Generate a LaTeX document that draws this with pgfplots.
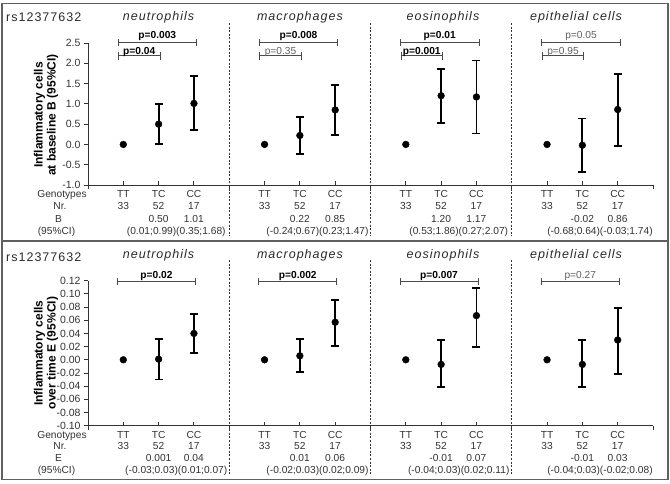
\documentclass[border=0pt]{standalone}
\usepackage{fontspec}
\setmainfont{Liberation Sans}
\usepackage{pgfplots}
\pgfplotsset{compat=1.18}
\definecolor{ax}{HTML}{333333}
\definecolor{br}{HTML}{4A4A4A}
\definecolor{fr}{HTML}{606060}
\definecolor{ns}{HTML}{606060}
\definecolor{tx}{HTML}{2A2A2A}
\newcommand{\ttl}{\fontsize{12.5}{14}\selectfont\addfontfeature{LetterSpace=8}}
\newcommand{\sm}{\fontsize{10.2}{12}\selectfont}
\begin{document}
\begin{tikzpicture}
\pgfplotsset{
 panel/.style={
  scale only axis, width=565pt, anchor=south west,
  xmin=0, xmax=4, axis x line*=bottom, axis y line*=left,
  xtick=\empty, clip=false, tick align=outside, major tick length=4pt,
  axis line style={ax, line width=0.9pt}, y tick style={ax, line width=0.9pt},
  yticklabel style={font=\fontsize{10.5}{12}\selectfont, text=ax,
    /pgf/number format/fixed, /pgf/number format/fixed zerofill,
    /pgf/number format/assume math mode=true},
 },
 dots/.style={only marks, mark=*, mark size=3.4pt, black},
 ebars/.style={only marks, mark=*, mark size=3.4pt, black,
   error bars/.cd, y dir=both, y explicit,
   error bar style={line width=1.8pt, black},
   error mark options={rotate=90, mark size=4pt, line width=1.8pt, black}},
}

% ---------- top panel ----------
\begin{axis}[panel, at={(88pt,298pt)}, height=142pt, ymin=-1, ymax=2.5,
  ytick={-1,-0.5,0,0.5,1,1.5,2,2.5},
  yticklabel style={/pgf/number format/precision=1}]
\addplot[dots] coordinates {(0.25,0) (1.25,0) (2.25,0) (3.25,0)};
\addplot[ebars] coordinates {
 (0.5,0.50) += (0,0.49) -= (0,0.49)
 (0.75,1.01) += (0,0.67) -= (0,0.66)
 (1.5,0.22) += (0,0.45) -= (0,0.46)
 (1.75,0.85) += (0,0.62) -= (0,0.62)
 (2.5,1.20) += (0,0.66) -= (0,0.67)
 (2.75,1.17) += (0,0.90) -= (0,0.90)
 (3.5,-0.02) += (0,0.66) -= (0,0.66)
 (3.75,0.86) += (0,0.88) -= (0,0.89)
};
\end{axis}

% ---------- bottom panel ----------
\begin{axis}[panel, at={(88pt,57.3pt)}, height=145pt, ymin=-0.10, ymax=0.12,
  ytick={-0.10,-0.08,-0.06,-0.04,-0.02,0,0.02,0.04,0.06,0.08,0.10,0.12},
  yticklabel style={/pgf/number format/precision=2}]
\addplot[dots] coordinates {(0.25,0) (1.25,0) (2.25,0) (3.25,0)};
\addplot[ebars] coordinates {
 (0.5,0.001) += (0,0.030) -= (0,0.031)
 (0.75,0.040) += (0,0.030) -= (0,0.030)
 (1.5,0.006) += (0,0.025) -= (0,0.025)
 (1.75,0.057) += (0,0.034) -= (0,0.036)
 (2.5,-0.007) += (0,0.037) -= (0,0.034)
 (2.75,0.067) += (0,0.042) -= (0,0.047)
 (3.5,-0.007) += (0,0.037) -= (0,0.034)
 (3.75,0.030) += (0,0.049) -= (0,0.051)
};
\end{axis}

\begin{scope}[x=1pt,y=1pt]
% ---------- frame ----------
\draw[fr, line width=1.4pt] (2,3.5) rectangle (668,479.7);
\draw[fr, line width=1.4pt] (2,242) -- (668,242);

% ---------- x ticks and separators ----------
\foreach \yb/\ys/\ye in {298/460/247, 57.3/223/8}{
  \foreach \g in {88,229.25,370.5,511.75}{
    \draw[ax, line width=0.9pt] (\g+35.3,\yb) -- ++(0,4) (\g+70.6,\yb) -- ++(0,4) (\g+105.9,\yb) -- ++(0,4);
  }
  \foreach \g in {88,229.25,370.5,511.75,653}{
    \draw[ax, line width=0.9pt] (\g,\yb) -- ++(0,-4);
  }
  \foreach \g in {229.25,370.5,511.75}{
    \draw[ax, line width=0.7pt, dash pattern=on 2pt off 1.6pt] (\g,\ys) -- (\g,\ye);
  }
}

% ---------- titles ----------
\node[anchor=west, text=tx, inner sep=0] at (6,466) {\ttl rs12377632};
\node[anchor=west, text=tx, inner sep=0] at (6,225.5) {\ttl rs12377632};
\foreach \yy in {466,228}{
  \node[text=tx] at (158.5,\yy) {\ttl\itshape neutrophils};
  \node[text=tx] at (299.9,\yy) {\ttl\itshape macrophages};
  \node[text=tx] at (443,\yy) {\ttl\itshape eosinophils};
  \node[text=tx] at (576,\yy) {\ttl\itshape epithelial cells};
}

% ---------- y labels ----------
\node[rotate=90, align=center, text=black, font=\bfseries\fontsize{12}{13}\selectfont] at (46,368) {Inflammatory cells\\at baseline B (95\%CI)};
\node[rotate=90, align=center, text=black, font=\bfseries\fontsize{12}{13}\selectfont] at (46,130) {Inflammatory cells\\over time E (95\%CI)};

% ---------- table rows ----------
\begin{scope}[every node/.style={anchor=base, text=ax, inner sep=0, font=\sm}]
\node at (62,285.5) {Genotypes};
\node at (60,273) {Nr.};
\node at (58.5,261) {B};
\node at (56.5,248.5) {(95\%CI)};
\node at (62,44.9) {Genotypes};
\node at (60,33.2) {Nr.};
\node at (58.5,21.4) {E};
\node at (56.5,9.4) {(95\%CI)};
\foreach \g/\bt/\bc/\ci in {88/0.50/1.01/{(0.01;0.99)(0.35;1.68)},
  229.25/0.22/0.85/{(-0.24;0.67)(0.23;1.47)},
  370.5/1.20/1.17/{(0.53;1.86)(0.27;2.07)},
  511.75/-0.02/0.86/{(-0.68;0.64)(-0.03;1.74)}}{
  \node at (\g+35.3,285.5) {TT};
  \node at (\g+35.3,273) {33};
  \node at (\g+70.6,285.5) {TC};
  \node at (\g+70.6,273) {52};
  \node at (\g+70.6,261) {\bt};
  \node at (\g+105.9,285.5) {CC};
  \node at (\g+105.9,273) {17};
  \node at (\g+105.9,261) {\bc};
  \node at (\g+88.25,248.5) {\ci};
}
\foreach \g/\bt/\bc/\ci in {88/0.001/0.04/{(-0.03;0.03)(0.01;0.07)},
  229.25/0.01/0.06/{(-0.02;0.03)(0.02;0.09)},
  370.5/-0.01/0.07/{(-0.04;0.03)(0.02;0.11)},
  511.75/-0.01/0.03/{(-0.04;0.03)(-0.02;0.08)}}{
  \node at (\g+35.3,44.9) {TT};
  \node at (\g+35.3,33.2) {33};
  \node at (\g+70.6,44.9) {TC};
  \node at (\g+70.6,33.2) {52};
  \node at (\g+70.6,21.4) {\bt};
  \node at (\g+105.9,44.9) {CC};
  \node at (\g+105.9,33.2) {17};
  \node at (\g+105.9,21.4) {\bc};
  \node at (\g+88.25,9.4) {\ci};
}
\end{scope}

% ---------- p-value brackets ----------
\newcommand{\brk}[4]{\draw[br, line width=1pt] (#1,#3-#4) -- (#1,#3+#4) (#1,#3) -- (#2,#3) (#2,#3-#4) -- (#2,#3+#4);}
\foreach \g/\pl/\ps in {88/{\bfseries p=0.003}/{\bfseries p=0.04},
   229.25/{\bfseries p=0.008}/{\color{ns}p=0.35},
   370.5/{\bfseries p=0.01}/{\bfseries p=0.001},
   511.75/{\color{ns}p=0.05}/{\color{ns}p=0.95}}{
  \brk{\g+30}{\g+108.5}{440.3}{3.2}
  \brk{\g+30.5}{\g+72}{427}{4.2}
  \node[anchor=base, inner sep=0, text=black, font=\sm] at (\g+69.25,444.2) {\pl};
  \node[anchor=base, inner sep=0, text=black, font=\sm] at (\g+51.25,428.3) {\ps};
}
\foreach \g/\pl in {88/{\bfseries p=0.02}, 229.25/{\bfseries p=0.002},
   370.5/{\bfseries p=0.007}, 511.75/{\color{ns}p=0.27}}{
  \brk{\g+29.5}{\g+107.5}{201.3}{3.4}
  \node[anchor=base, inner sep=0, text=black, font=\sm] at (\g+68.5,205) {\pl};
}
\end{scope}

\pgfresetboundingbox
\path[use as bounding box] (0,0) rectangle (670pt,483pt);
\end{tikzpicture}
\end{document}
